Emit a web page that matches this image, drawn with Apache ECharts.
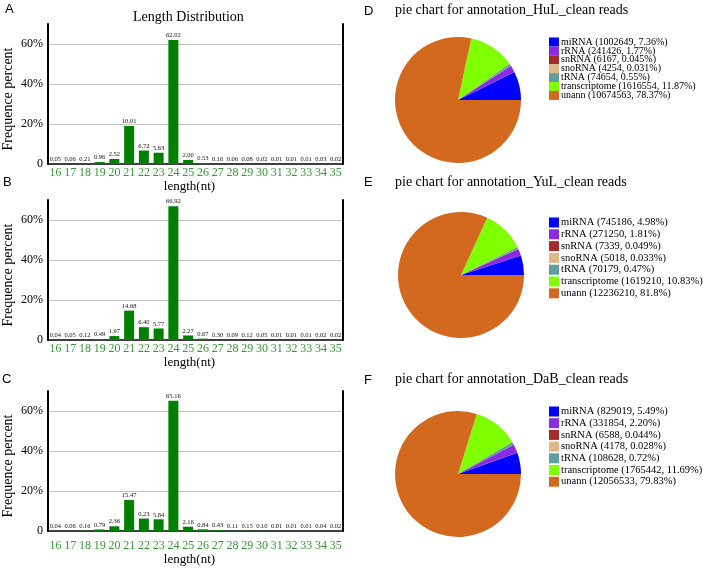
<!DOCTYPE html>
<html><head><meta charset="utf-8">
<script src="https://cdn.jsdelivr.net/npm/echarts@6/dist/echarts.min.js"></script>
<style>html,body{margin:0;padding:0;background:#fff}#c{width:703px;height:568px}</style>
</head><body><div id="c"></div>
<script>
// ---- data ----
const lengths = ['16','17','18','19','20','21','22','23','24','25','26','27','28','29','30','31','32','33','34','35'];
const yTicks = [0, 20, 40, 60];
// bar values (heights as drawn) and printed labels
const valA = [0.05,0.06,0.21,0.96,2.52,19.01,6.72,5.63,62.02,2.00,0.53,0.16,0.06,0.08,0.02,0.01,0.01,0.01,0.03,0.02];
const labA = ['0.05','0.06','0.21','0.96','2.52','10.01','6.72','5.63','62.02','2.00','0.53','0.16','0.06','0.08','0.02','0.01','0.01','0.01','0.03','0.02'];
const valB = [0.04,0.05,0.12,0.49,1.97,14.68,6.40,5.77,66.92,2.27,0.67,0.30,0.09,0.12,0.05,0.01,0.01,0.01,0.02,0.02];
const labB = ['0.04','0.05','0.12','0.49','1.97','14.68','6.40','5.77','66.92','2.27','0.67','0.30','0.09','0.12','0.05','0.01','0.01','0.01','0.02','0.02'];
const valC = [0.04,0.06,0.16,0.79,2.36,15.47,6.23,5.84,65.16,2.16,0.84,0.43,0.11,0.15,0.10,0.01,0.01,0.01,0.04,0.02];
const labC = ['0.04','0.06','0.16','0.79','2.36','15.47','0.23','5.84','65.16','2.16','0.84','0.43','0.11','0.15','0.10','0.01','0.01','0.01','0.04','0.02'];

const rnaTypes = ['miRNA','rRNA','snRNA','snoRNA','tRNA','transcriptome','unann'];
const rnaColors = ['#0000ff','#8a2be2','#a52a2a','#deb887','#5f9ea0','#7fff00','#d2691e'];
const countD = [1002649,241426,6167,4254,74654,1616554,10674563];
const pctD = ['7.36%','1.77%','0.045%','0.031%','0.55%','11.87%','78.37%'];
const countE = [745186,271250,7339,5018,70179,1619210,12236210];
const pctE = ['4.98%','1.81%','0.049%','0.033%','0.47%','10.83%','81.8%'];
const countF = [829019,331854,6588,4178,108628,1765442,12056533];
const pctF = ['5.49%','2.20%','0.044%','0.028%','0.72%','11.69%','79.83%'];

const SERIF = '"Liberation Serif","Times New Roman",serif';
const SANS = '"Liberation Sans",Arial,sans-serif';

const barPanels = [
  {vals: valA, labs: labA, top: 24, labMargin: 3, nameGap: 11},
  {vals: valB, labs: labB, top: 200, labMargin: 3, nameGap: 13},
  {vals: valC, labs: labC, top: 391, labMargin: 9, nameGap: 20}
];
const piePanels = [
  {counts: countD, pcts: pctD, cx: 458, cy: 100, r: 63, legTop: 37, gap: -1.1, ih: 9, fs: 10},
  {counts: countE, pcts: pctE, cx: 461, cy: 275, r: 63, legTop: 217, gap: 0.8, ih: 10, fs: 10.5},
  {counts: countF, pcts: pctF, cx: 458, cy: 474, r: 63, legTop: 406, gap: 0.7, ih: 10, fs: 10.5}
];

const grid = [], xAxis = [], yAxis = [], series = [], legend = [];
barPanels.forEach((p, i) => {
  grid.push({left: 48, top: p.top, width: 295, height: 140, containLabel: false, outerBoundsMode: 'none'});
  xAxis.push({
    type: 'category', gridIndex: i, data: lengths, boundaryGap: true,
    axisLine: {show: true, lineStyle: {color: '#000', width: 1.5}},
    axisTick: {show: false},
    axisLabel: {color: '#339933', fontFamily: SERIF, fontSize: 12, margin: p.labMargin, interval: 0},
    name: 'length(nt)', nameLocation: 'middle', nameGap: p.nameGap,
    nameTextStyle: {color: '#000', fontFamily: SERIF, fontSize: 13, padding: [0, 12, 0, 0]}
  });
  yAxis.push({
    type: 'value', gridIndex: i, min: 0, max: 70, interval: 20,
    axisLine: {show: true, lineStyle: {color: '#000', width: 2}},
    axisTick: {show: false},
    axisLabel: {color: '#000', fontFamily: SERIF, fontSize: 12, margin: 5,
      formatter: v => (v === 0 ? '0' : (yTicks.indexOf(v) >= 0 ? v + '%' : ''))},
    splitLine: {show: true, lineStyle: {color: ['rgba(0,0,0,0)','#c4c4c4','#c4c4c4','#c4c4c4','rgba(0,0,0,0)'], width: 1}},
    name: 'Frequence percent', nameLocation: 'middle', nameRotate: 90, nameGap: 33,
    nameTextStyle: {color: '#000', fontFamily: SERIF, fontSize: 14, padding: [0, 10, 0, 0]}
  });
  yAxis.push({
    type: 'value', gridIndex: i, min: 0, max: 70, position: 'right',
    axisLine: {show: true, onZero: false, lineStyle: {color: '#000', width: 2}},
    axisTick: {show: false}, axisLabel: {show: false}, splitLine: {show: false}
  });
  series.push({
    type: 'bar', xAxisIndex: i, yAxisIndex: i * 2, data: p.vals, barWidth: 10,
    itemStyle: {color: '#008000'},
    label: {show: true, position: 'top', distance: 1, fontSize: 6.5, fontFamily: SERIF, color: '#111',
      formatter: prm => p.labs[prm.dataIndex]},
    silent: true
  });
});

piePanels.forEach((p) => {
  const names = rnaTypes.map((t, k) => t + ' (' + p.counts[k] + ', ' + p.pcts[k] + ')');
  series.push({
    type: 'pie', center: [p.cx, p.cy], radius: [0, p.r], startAngle: 0, clockwise: false,
    label: {show: false}, labelLine: {show: false}, silent: true,
    itemStyle: {borderWidth: 0},
    data: names.map((n, k) => ({name: n, value: p.counts[k], itemStyle: {color: rnaColors[k]}}))
  });
  legend.push({
    data: names, orient: 'vertical', left: 549, top: p.legTop, padding: 0,
    itemWidth: 10, itemHeight: p.ih, itemGap: p.gap, icon: 'rect', selectedMode: false,
    textStyle: {fontFamily: SERIF, fontSize: p.fs, color: '#000', lineHeight: p.ih, padding: [0, 0, 0, -3]}
  });
});

const title = [
  {text: 'Length Distribution', left: 133, top: 10},
  {text: 'pie chart for annotation_HuL_clean reads', left: 395, top: 3},
  {text: 'pie chart for annotation_YuL_clean reads', left: 395, top: 175},
  {text: 'pie chart for annotation_DaB_clean reads', left: 395, top: 372}
].map(t => Object.assign(t, {padding: 0, textStyle: {fontFamily: SERIF, fontSize: 14, fontWeight: 'normal', color: '#000'}}));
[['A', 5, 3], ['B', 3, 176], ['C', 2, 373], ['D', 364, 5], ['E', 364, 176], ['F', 364, 374]].forEach(l => {
  title.push({text: l[0], left: l[1], top: l[2], padding: 0,
    textStyle: {fontFamily: SANS, fontSize: 13, fontWeight: 'normal', color: '#000'}});
});

const chart = echarts.init(document.getElementById('c'), null, {renderer: 'canvas'});
chart.setOption({animation: false, backgroundColor: '#fff', title, grid, xAxis, yAxis, series, legend});
</script></body></html>
